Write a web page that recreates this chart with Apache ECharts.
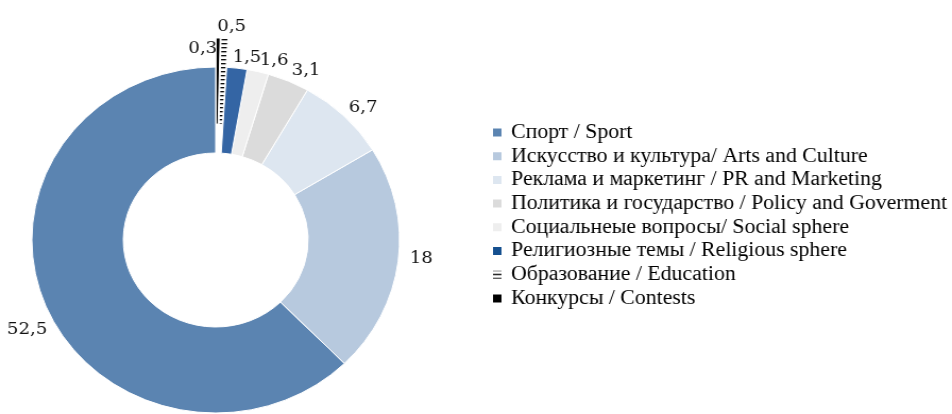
<!DOCTYPE html>
<html><head><meta charset="utf-8">
<script src="https://cdn.jsdelivr.net/npm/echarts@6/dist/echarts.min.js"></script>
<style>html,body{margin:0;padding:0;background:#fff;overflow:hidden}
#wrap{width:952px;height:414px;overflow:hidden}
#c{width:896px;height:414px;transform:scaleX(1.0625);transform-origin:0 0}</style>
</head><body><div id="wrap"><div id="c"></div></div>
<script>
const categories = [
  'Спорт / Sport',
  'Искусство и культура/ Arts and Culture',
  'Реклама и маркетинг / PR and Marketing',
  'Политика и государство / Policy and Goverment',
  'Социальнеые вопросы/ Social sphere',
  'Религиозные темы / Religious sphere',
  'Образование / Education',
  'Конкурсы / Contests'
];
const values = [52.5, 18, 6.7, 3.1, 1.6, 1.5, 0.5, 0.3];
const exploded = [false, false, false, false, false, false, true, true];
const colors = ['#5b84b1', '#b7c9de', '#dde6f0', '#dbdbdb', '#eeeeee', '#3465a4', 'hatch', '#000000'];
const legendColors = ['#5b84b1', '#b7c9de', '#dde6f0', '#dbdbdb', '#eeeeee', '#15508f', 'hatch', '#000000'];
const labelNudge = [[14, 21], [-2, -4], [-6, -3], [-5, -3], [-5, -3], [-10, -3], [-12, -4], [-33, 19]];

function hatch() {
  const cv = document.createElement('canvas');
  cv.width = 4; cv.height = 4;
  const g = cv.getContext('2d');
  g.fillStyle = '#fff'; g.fillRect(0, 0, 4, 4);
  g.fillStyle = '#000'; g.fillRect(0, 0, 4, 1.3);
  return { image: cv, repeat: 'repeat' };
}
const fill = c => (c === 'hatch' ? hatch() : c);

const chart = echarts.init(document.getElementById('c'));
const data = categories.map((name, i) => ({
  name: name,
  value: values[i],
  selected: exploded[i],
  itemStyle: { color: fill(colors[i]) }
}));

chart.setOption({
  animation: false,
  legend: {
    orient: 'vertical',
    left: 462,
    top: 122,
    padding: 0,
    icon: 'rect',
    itemWidth: 10,
    itemHeight: 10,
    itemGap: 2.7,
    textStyle: { fontFamily: 'Liberation Serif', fontSize: 20.5, color: '#000', lineHeight: 19.7, padding: [0, 0, 0, 3] },
    data: categories.map((name, i) => ({ name: name, itemStyle: { color: fill(legendColors[i]) } }))
  },
  series: [{
    type: 'pie',
    center: [203, 240],
    radius: [87, 173],
    startAngle: 90,
    clockwise: false,
    avoidLabelOverlap: false,
    selectedMode: 'multiple',
    selectedOffset: 29,
    itemStyle: { borderColor: '#fff', borderWidth: 1 },
    select: { itemStyle: { borderColor: '#fff', borderWidth: 1 } },
    emphasis: { disabled: true },
    label: {
      show: true,
      position: 'outside',
      fontFamily: 'DejaVu Serif',
      fontSize: 17,
      color: '#111',
      formatter: p => String(p.value).replace('.', ',')
    },
    labelLine: { show: false, length: 8, length2: 0 },
    labelLayout: p => ({ dx: labelNudge[p.dataIndex][0], dy: labelNudge[p.dataIndex][1] }),
    data: data
  }]
});
</script></body></html>
